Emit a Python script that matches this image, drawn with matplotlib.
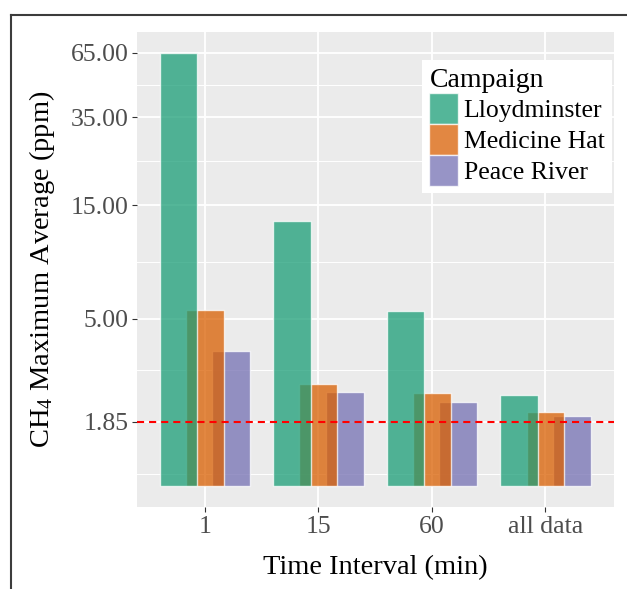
import numpy as np
import matplotlib
matplotlib.use('Agg')
import matplotlib.pyplot as plt
from matplotlib.lines import Line2D
from matplotlib.patches import Patch

plt.rcParams['font.family'] = ['Liberation Serif', 'DejaVu Serif']
plt.rcParams['mathtext.fontset'] = 'custom'
plt.rcParams['mathtext.rm'] = 'Liberation Serif'
plt.rcParams['mathtext.it'] = 'Liberation Serif:italic'

# data
intervals = ['1', '15', '60', 'all data']
campaigns = ['Lloydminster', 'Medicine Hat', 'Peace River']
lloydminster = [65.0, 12.9, 5.4, 2.40]
medicine_hat = [5.45, 2.67, 2.45, 2.04]
peace_river = [3.67, 2.47, 2.24, 1.96]
ytick_vals = [1.85, 5, 15, 35, 65]
ytick_labels = ['1.85', '5.00', '15.00', '35.00', '65.00']
background_level = 1.85

colors = ['#1B9E77', '#D95F02', '#7570B3']
alpha = 0.75
dodge = 0.7 / 3
barw = 1 / 3

fig = plt.figure(figsize=(6.27, 5.89), dpi=100)
ax = fig.add_axes([0.2182, 0.1384, 0.7603, 0.8073])
ax.set_facecolor('#EBEBEB')
ax.set_yscale('log')

x = np.arange(len(intervals))
series = [lloydminster, medicine_hat, peace_river]
for k, (vals, col) in enumerate(zip(series, colors)):
    vals = np.array(vals)
    ax.bar(x + (k - 1) * dodge, vals - 1, bottom=1, width=barw,
           color=col, alpha=alpha, edgecolor=(1, 1, 1, 0.45), linewidth=1.0,
           zorder=5 - k)

ax.axhline(background_level, color='#FF0000', lw=1.5, ls=(0, (3.4, 2.4)), zorder=10)

# ggplot-like grid
ax.set_xlim(-0.6, len(intervals) - 0.4)
ax.set_ylim(0.811, 79.6)
ax.set_xticks(x)
ax.set_xticklabels(intervals)
ax.set_yticks(ytick_vals)
ax.set_yticklabels(ytick_labels)
ax.minorticks_off()
lv = np.log10(ytick_vals)
minor = [(lv[i] + lv[i + 1]) / 2 for i in range(len(lv) - 1)]
minor.append(lv[0] - (lv[1] - lv[0]) / 2)
for m in minor:
    ax.axhline(10 ** m, color='white', lw=0.7, zorder=1)
for t in ytick_vals:
    ax.axhline(t, color='white', lw=1.3, zorder=1)
for xi in x:
    ax.axvline(xi, color='white', lw=1.3, zorder=1)

for s in ax.spines.values():
    s.set_visible(False)
ax.tick_params(axis='both', length=3.6, width=0.8, color='#333333',
               labelcolor='#4D4D4D', labelsize=18.5, pad=2.5)

ax.set_xlabel('Time Interval (min)', fontsize=20.5, labelpad=12)
ax.set_ylabel('CH$_4$ Maximum Average (ppm)', fontsize=20.5, labelpad=10)

handles = [Patch(facecolor=c, alpha=alpha, edgecolor=(1, 1, 1, 0.45)) for c in colors]
leg = ax.legend(handles, campaigns, title='Campaign', loc='upper left',
                bbox_to_anchor=(421.7 / 627, (589 - 60) / 589),
                bbox_transform=fig.transFigure, borderaxespad=0,
                fontsize=18.5, title_fontsize=20, frameon=True, fancybox=False,
                framealpha=1, facecolor='white', edgecolor='none',
                handlelength=1.13, handleheight=1.48, handletextpad=0.2,
                labelspacing=0.0, borderpad=0.3, alignment='left')
leg.set_zorder(20)

# outer frame (partly cropped in the reference)
ytop = (589 - 15) / 589
xleft = 10.8 / 627
fig.add_artist(Line2D([xleft, 1], [ytop, ytop], transform=fig.transFigure,
                      color='#3C3C3C', lw=1.5))
fig.add_artist(Line2D([xleft, xleft], [0, ytop], transform=fig.transFigure,
                      color='#3C3C3C', lw=1.5))

fig.savefig('out.png', dpi=100)
